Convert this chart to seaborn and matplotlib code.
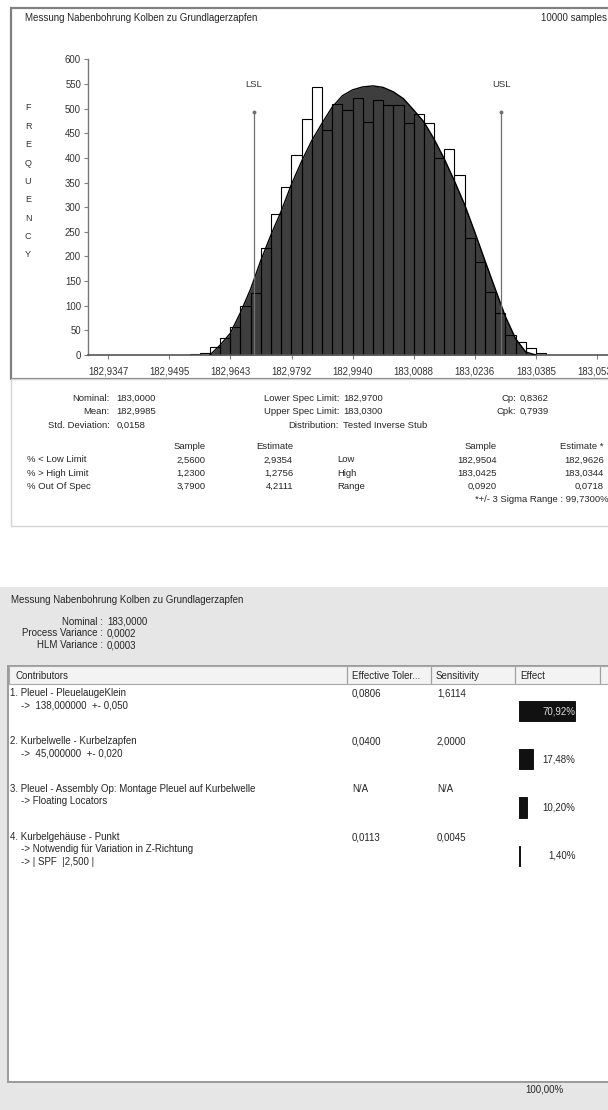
import numpy as np
import pandas as pd
import matplotlib
matplotlib.use("Agg")
import matplotlib.pyplot as plt
from matplotlib.patches import Rectangle
from matplotlib.transforms import blended_transform_factory
import seaborn as sns

# ---------------- data ----------------
report_title = "Messung Nabenbohrung Kolben zu Grundlagerzapfen"
sample_note = "10000 samples"

tick_labels = ["182,9347", "182,9495", "182,9643", "182,9792", "182,9940",
               "183,0088", "183,0236", "183,0385", "183,0533"]
y_ticks = [0, 50, 100, 150, 200, 250, 300, 350, 400, 450, 500, 550, 600]

# sample counts per class (48 classes between the first and last tick)
counts = [0, 0, 0, 0, 0, 0, 1, 1, 3, 4,
          17, 34, 56, 99, 125, 217, 287, 340, 405, 478,
          544, 456, 509, 497, 522, 472, 518, 507, 507, 471,
          490, 470, 399, 419, 365, 238, 189, 128, 86, 40,
          27, 14, 5, 1, 0, 0, 0, 0]

# fitted distribution, height at class edges starting at edge 10
fit_first_edge = 10
fit_heights = [0, 20, 44, 86, 134, 192, 244, 292, 346, 393,
               435, 470, 503, 526, 538, 544, 546, 543, 534, 520,
               497, 473, 438, 398, 353, 305, 249, 191, 134, 78,
               33, 6, 0]

lsl_value = 182.9700
usl_value = 183.0300
limit_marker_height = 493

stats_left = [("Nominal:", "183,0000"), ("Mean:", "182,9985"), ("Std. Deviation:", "0,0158")]
stats_mid = [("Lower Spec Limit:", "182,9700"), ("Upper Spec Limit:", "183,0300"),
             ("Distribution:", "Tested Inverse Stub")]
stats_right = [("Cp:", "0,8362"), ("Cpk:", "0,7939")]

row_names = ["% < Low Limit", "% > High Limit", "% Out Of Spec"]
pct_sample = ["2,5600", "1,2300", "3,7900"]
pct_estimate = ["2,9354", "1,2756", "4,2111"]
range_names = ["Low", "High", "Range"]
range_sample = ["182,9504", "183,0425", "0,0920"]
range_estimate = ["182,9626", "183,0344", "0,0718"]
sigma_note = "*+/- 3 Sigma Range : 99,7300%"

hlm_lines = [("Nominal", "183,0000"), ("Process Variance", "0,0002"), ("HLM Variance", "0,0003")]
table_headers = ["Contributors", "Effective Toler...", "Sensitivity", "Effect"]
contributors = ["1. Pleuel - PleuelaugeKlein",
                "2. Kurbelwelle - Kurbelzapfen",
                "3. Pleuel - Assembly Op: Montage Pleuel auf Kurbelwelle",
                "4. Kurbelgehäuse - Punkt"]
contributor_details = [["->  138,000000  +- 0,050"],
                       ["->  45,000000  +- 0,020"],
                       ["-> Floating Locators"],
                       ["-> Notwendig für Variation in Z-Richtung", "-> | SPF  |2,500 |"]]
effective_tol = ["0,0806", "0,0400", "N/A", "0,0113"]
sensitivity = ["1,6114", "2,0000", "N/A", "0,0045"]
effect_pct = [70.92, 17.48, 10.20, 1.40]

# ---------------- style ----------------
sns.set_theme(style="white")
plt.rcParams["font.family"] = ["Liberation Sans", "DejaVu Sans"]
TXT = "#262626"

W, H = 608, 1110
fig = plt.figure(figsize=(W / 100, H / 100), dpi=100)
fig.patch.set_facecolor("white")


def fx(x):
    return x / W


def fy(y):
    return 1 - y / H


def box(x0, y0, x1, y1, **kw):
    r = Rectangle((fx(x0), fy(y1)), (x1 - x0) / W, (y1 - y0) / H,
                  transform=fig.transFigure, **kw)
    fig.add_artist(r)
    return r


def put(x, y, s, size=6.8, ha="left", **kw):
    fig.text(fx(x), fy(y), s, ha=ha, va="center", fontsize=size, color=kw.pop("color", TXT), **kw)


# ---------------- panels ----------------
box(11, 8, 640, 379, facecolor="white", edgecolor="#808080", lw=1.6, zorder=-5)
box(11, 379, 640, 526, facecolor="white", edgecolor="#d4d4d4", lw=1.0, zorder=-5)
box(-5, 587, 640, 1120, facecolor="#e6e6e6", edgecolor="none", zorder=-6)
box(8, 666, 640, 1082, facecolor="white", edgecolor="#9a9a9a", lw=1.4, zorder=-5)
box(9, 666, 640, 684, facecolor="#f3f3f3", edgecolor="#a8a8a8", lw=0.8, zorder=-4)
for sep in [347, 431, 515, 600]:
    fig.add_artist(plt.Line2D([fx(sep), fx(sep)], [fy(667), fy(683)],
                              transform=fig.transFigure, color="#a0a0a0", lw=0.9))

# ---------------- histogram ----------------
ticks = [float(t.replace(",", ".")) for t in tick_labels]
step = (ticks[-1] - ticks[0]) / (len(ticks) - 1)
edges = np.linspace(ticks[0], ticks[-1], len(counts) + 1)
centers = (edges[:-1] + edges[1:]) / 2
fit_x = edges[fit_first_edge:fit_first_edge + len(fit_heights)]
hist_df = pd.DataFrame({"value": centers, "count": counts})

tick_px = 61.14
ax = fig.add_axes([fx(88), fy(355), (W - 88) / W, (355 - 59.3) / H])
ax.set_facecolor("none")

ax.fill_between(fit_x, fit_heights, 0, color="#3e3e3e", lw=0, zorder=1)
sns.histplot(data=hist_df, x="value", weights="count", bins=list(edges), fill=False,
             color="black", linewidth=0.8, ax=ax, zorder=2)
sns.lineplot(x=fit_x, y=fit_heights, color="black", lw=1.0, ax=ax, zorder=3)

for val, name in [(lsl_value, "LSL"), (usl_value, "USL")]:
    ax.vlines(val, 0, limit_marker_height, color="#707070", lw=0.9, zorder=4)
    ax.plot([val], [limit_marker_height], marker="o", ms=1.8, color="#707070", zorder=4)
    ax.text(val, 548, name, ha="center", va="center", fontsize=6.8, color="#333333")

ax.set_xlim(ticks[0] - 20 / tick_px * step, ticks[0] + 500 / tick_px * step)
ax.set_ylim(0, 600)
ax.set_xticks(ticks)
ax.set_xticklabels(tick_labels)
ax.set_yticks(y_ticks)
ax.set_yticklabels([str(v) for v in y_ticks])
ax.tick_params(axis="x", labelsize=6.9, length=3, width=0.8, color="#808080",
               labelcolor="#333333", pad=5, bottom=True)
ax.tick_params(axis="y", labelsize=6.9, length=3, width=0.8, color="#808080",
               labelcolor="#333333", pad=2, left=True)
ax.set_xlabel("")
ax.set_ylabel("")
for s in ["top", "right"]:
    ax.spines[s].set_visible(False)
ax.spines["left"].set_color("#777777")
ax.spines["bottom"].set_color("#555555")
ax.spines["left"].set_linewidth(1.0)
ax.spines["bottom"].set_linewidth(1.2)

for i, ch in enumerate("FREQUENCY"):
    put(28, 108 + i * 18.35, ch, size=6.5, ha="center", color="#333333")

put(25, 18, report_title, size=7.0)
put(541, 18, sample_note, size=7.0)

# ---------------- statistics block ----------------
row_y = [398.5, 411.7, 425]
for (lab, val), y in zip(stats_left, row_y):
    put(109.5, y, lab, ha="right")
    put(116.5, y, val)
for (lab, val), y in zip(stats_mid, row_y):
    put(339, y, lab, ha="right")
    put(343, y, val)
for (lab, val), y in zip(stats_right, row_y):
    put(516, y, lab, ha="right")
    put(520, y, val)

put(205.5, 446.7, "Sample", ha="right")
put(293, 446.7, "Estimate", ha="right")
put(497, 446.7, "Sample", ha="right")
put(604, 446.7, "Estimate *", ha="right")
for i, y in enumerate([460, 473.3, 486.5]):
    put(27, y, row_names[i])
    put(205.5, y, pct_sample[i], ha="right")
    put(293, y, pct_estimate[i], ha="right")
    put(337, y, range_names[i])
    put(497, y, range_sample[i], ha="right")
    put(604, y, range_estimate[i], ha="right")
put(475, 499, sigma_note)

# ---------------- contributor panel ----------------
put(11, 600, report_title, size=7.0)
for (lab, val), y in zip(hlm_lines, [622, 633, 645]):
    put(103, y, lab + " :", ha="right", size=7.0)
    put(107, y, val, size=7.0)

for x, h in zip([15, 352, 436, 520], table_headers):
    put(x, 676, h, size=7.0)

row_top = [693, 741, 789, 837]
for i, y in enumerate(row_top):
    put(10, y, contributors[i], size=7.0)
    for j, d in enumerate(contributor_details[i]):
        put(21, y + 12 + 13 * j, d, size=7.0)
    put(352, y, effective_tol[i], size=7.0)
    put(437, y, sensitivity[i], size=7.0)

# effect bars
px_per_pct = 0.785
eff_w = 80
bar_centre0, bar_gap = 711, 48.3
ax2 = fig.add_axes([fx(519.3), fy(bar_centre0 + 3.5 * bar_gap), eff_w / W, 4 * bar_gap / H])
ax2.set_facecolor("none")
cats = [str(i) for i in range(len(effect_pct))]
sns.barplot(x=effect_pct, y=cats, orient="h", color="#111111", width=0.42,
            edgecolor="#000000", linewidth=0.6, saturation=1, ax=ax2)
ax2.set_xlim(0, eff_w / px_per_pct)
ax2.set_ylim(len(cats) - 0.5, -0.5)
ax2.axis("off")
label_frac = (575.5 - 519.3) / eff_w
tr = blended_transform_factory(ax2.transAxes, ax2.transData)
for i, v in enumerate(effect_pct):
    txt = f"{v:.2f}".replace(".", ",") + "%"
    inside = v * px_per_pct > (575.5 - 519.3) - 20
    ax2.text(label_frac, i, txt, transform=tr, ha="right", va="center", fontsize=7.0,
             color="#dcdcdc" if inside else TXT)

total = sum(effect_pct)
put(564, 1090, f"{total:.2f}".replace(".", ",") + "%", ha="right", size=7.0)

fig.savefig("out.png", dpi=100)
